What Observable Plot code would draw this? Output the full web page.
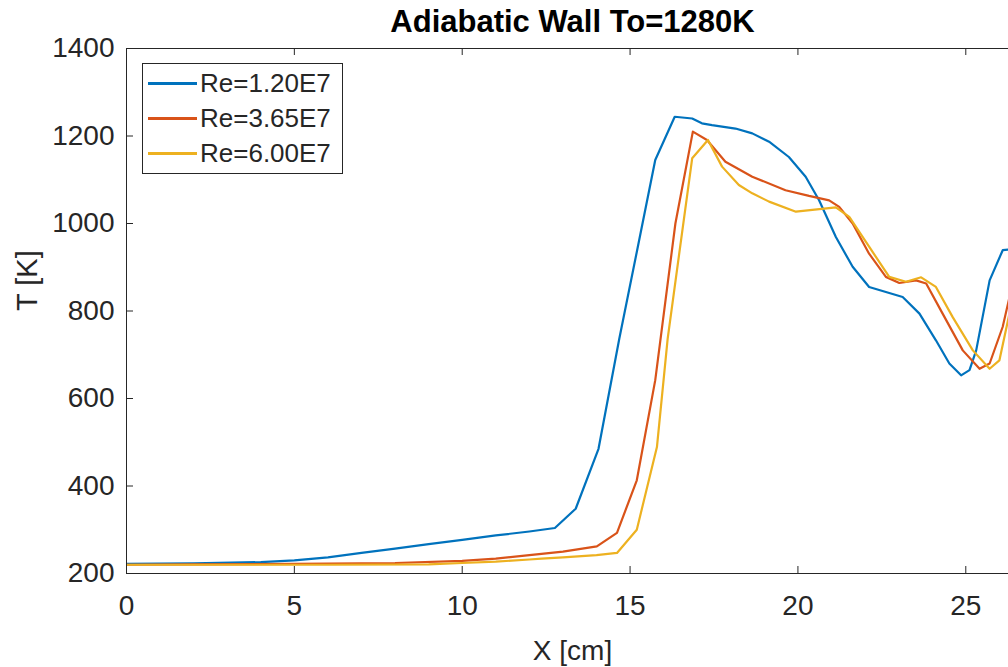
<!DOCTYPE html>
<html><head><meta charset="utf-8">
<script src="https://cdn.jsdelivr.net/npm/d3@7"></script>
<script src="https://cdn.jsdelivr.net/npm/@observablehq/plot@0.6"></script>
<style>
html,body{margin:0;padding:0;background:#fff;overflow:hidden;}
#wrap{position:relative;width:1018px;height:667px;font-family:"Liberation Sans",Arial,sans-serif;}
#legend{position:absolute;left:142px;top:63px;width:199px;height:109px;border:1px solid #262626;background:#fff;}
.row{position:absolute;left:0;height:35px;display:flex;align-items:center;}
.sw{width:49px;height:0;border-top:3px solid;margin-left:5px;margin-right:3px}
.lab{font-size:26px;color:#262626;line-height:35px;white-space:nowrap}
</style></head><body><div id="wrap"></div>
<script>
const series = ["Re=1.20E7", "Re=3.65E7", "Re=6.00E7"];
const colors = ["#0072BD", "#D95319", "#EDB120"];

const xBlue = [0, 2, 4, 5, 6, 7, 8, 9, 10, 11, 12, 12.76, 13.38, 14.06, 14.68, 15.2, 15.75, 16.33, 16.85, 17.14, 17.44, 18.14, 18.64, 19.14, 19.73, 20.23, 20.63, 21.13, 21.63, 22.12, 22.72, 23.12, 23.62, 24.11, 24.51, 24.86, 25.11, 25.31, 25.71, 26.1, 26.6];
const tBlue = [222, 223, 226, 230, 237, 247, 257, 267, 277, 287, 296, 304, 348, 485, 737, 935, 1145, 1244, 1240, 1229, 1225, 1217, 1206, 1187, 1152, 1107, 1053, 969, 901, 855, 841, 832, 794, 733, 680, 653, 665, 710, 870, 939, 943];

const xRed = [0, 2, 5, 8, 10, 11, 12, 12.36, 13, 14.01, 14.61, 15.2, 15.75, 16.35, 16.87, 17.29, 17.84, 18.64, 19.63, 20.33, 20.93, 21.23, 21.63, 22.12, 22.62, 23.02, 23.52, 23.82, 24.31, 24.91, 25.41, 25.71, 26.1, 26.4];
const tRed = [220, 221, 222, 224, 229, 234, 242, 245, 250, 262, 293, 413, 642, 1000, 1210, 1191, 1141, 1107, 1076, 1063, 1053, 1038, 1000, 931, 878, 864, 870, 863, 794, 710, 668, 680, 764, 865];

const xYellow = [0, 3, 6, 9, 10, 11, 12, 12.36, 13, 14, 14.61, 15.2, 15.8, 16.12, 16.85, 17.32, 17.74, 18.24, 18.64, 19.14, 19.94, 20.43, 21.13, 21.53, 22.12, 22.72, 23.22, 23.67, 24.11, 24.61, 25.21, 25.71, 26.0, 26.4];
const tYellow = [220, 220, 220, 221, 224, 227, 232, 234, 237, 242, 247, 300, 489, 737, 1149, 1191, 1130, 1088, 1069, 1050, 1027, 1031, 1037, 1015, 947, 878, 867, 877, 855, 786, 710, 668, 687, 830];

const xTicks = [0, 5, 10, 15, 20, 25];
const yTicks = [200, 400, 600, 800, 1000, 1200, 1400];
const title = "Adiabatic Wall To=1280K";
const xLabel = "X [cm]";
const yLabel = "T [K]";

const xs = [xBlue, xRed, xYellow];
const ts = [tBlue, tRed, tYellow];
const data = series.flatMap((s, i) => xs[i].map((x, j) => ({series: s, x, T: ts[i][j]})));

const ink = "#262626";
const plot = Plot.plot({
  width: 1018, height: 667,
  marginLeft: 126, marginRight: 0, marginTop: 48, marginBottom: 94,
  style: {fontFamily: '"Liberation Sans", Arial, sans-serif', color: ink, background: "white", overflow: "visible"},
  x: {domain: [0, 26.57]},
  y: {domain: [200, 1400]},
  color: {domain: series, range: colors},
  marks: [
    Plot.line(data, {x: "x", y: "T", stroke: "series", strokeWidth: 2.2, clip: true}),
    Plot.frame({stroke: ink}),
    Plot.ruleX(xTicks, {x: d => d, insetTop: 518, stroke: ink}),
    Plot.ruleX(xTicks, {x: d => d, insetBottom: 518, stroke: ink}),
    Plot.ruleY(yTicks, {y: d => d, insetRight: 885, stroke: ink}),
    Plot.axisX(xTicks, {tickSize: 0, tickPadding: 22, fontSize: 28, label: null, tickFormat: d => `${d}`}),
    Plot.axisY(yTicks, {tickSize: 0, tickPadding: 12, fontSize: 28, label: null, tickFormat: d => `${d}`}),
    Plot.text([xLabel], {text: d => d, frameAnchor: "bottom", lineAnchor: "middle", dy: 78, fontSize: 28, fill: ink}),
    Plot.text([yLabel], {text: d => d, frameAnchor: "left", lineAnchor: "middle", dx: -99, rotate: -90, fontSize: 29, fill: ink}),
    Plot.text([title], {text: d => d, frameAnchor: "top", lineAnchor: "middle", dy: -26, fontSize: 31, fontWeight: "bold", fill: "black"})
  ]
});
const wrap = document.getElementById("wrap");
wrap.appendChild(plot);

const legend = document.createElement("div");
legend.id = "legend";
series.forEach((s, i) => {
  const row = document.createElement("div");
  row.className = "row";
  row.style.top = (2 + i * 35) + "px";
  const sw = document.createElement("div");
  sw.className = "sw";
  sw.style.borderTopColor = colors[i];
  const lab = document.createElement("span");
  lab.className = "lab";
  lab.textContent = s;
  row.appendChild(sw);
  row.appendChild(lab);
  legend.appendChild(row);
});
wrap.appendChild(legend);
</script>
</body></html>
